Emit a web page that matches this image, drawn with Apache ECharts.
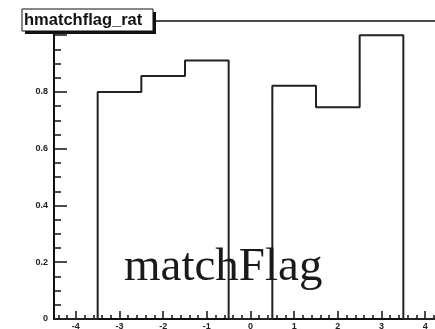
<!DOCTYPE html>
<html>
<head>
<meta charset="utf-8">
<script src="https://cdn.jsdelivr.net/npm/echarts@6/dist/echarts.min.js"></script>
<style>
html,body{margin:0;padding:0;background:#fff;}
#c{width:435px;height:329px;}
</style>
</head>
<body>
<div id="c"></div>
<script>
// Histogram "hmatchflag_rat": bin centers and bin contents
const binCenters = [-4, -3, -2, -1, 0, 1, 2, 3, 4];
const ratio = [0, 0.80, 0.856, 0.911, 0, 0.822, 0.746, 1.0, 0];
const histTitle = 'hmatchflag_rat';
const overlayText = 'matchFlag';

const halfW = 0.5;
const stepData = binCenters.map((c, i) => [c - halfW, ratio[i]]);
stepData.push([binCenters[binCenters.length - 1] + halfW, ratio[ratio.length - 1]]);

const chart = echarts.init(document.getElementById('c'), null, {renderer: 'canvas'});
const lblFont = {fontFamily: 'Liberation Sans, Arial, sans-serif', fontSize: 9, fontWeight: 'bold', color: '#222'};
chart.setOption({
  animation: false,
  backgroundColor: '#fff',
  grid: {left: 54, top: 21, right: -12, bottom: 10, outerBoundsMode: 'none', containLabel: false,
    show: true, borderColor: '#111', borderWidth: 1.5, backgroundColor: 'transparent'},
  xAxis: {
    type: 'value', min: -4.5, max: 4.5, splitNumber: 9,
    axisLine: {show: true, onZero: false, lineStyle: {color: '#111', width: 2}},
    axisTick: {show: true, inside: true, length: 8, lineStyle: {color: '#111', width: 1.5}},
    minorTick: {show: true, splitNumber: 5, length: 4, lineStyle: {color: '#111', width: 1.5}},
    splitLine: {show: false},
    axisLabel: Object.assign({margin: 3, showMinLabel: true, showMaxLabel: true,
      formatter: v => (Math.abs(v - Math.round(v)) < 1e-9 ? String(Math.round(v)) : '')}, lblFont)
  },
  yAxis: {
    type: 'value', min: 0, max: 1.05, interval: 0.2,
    axisLine: {show: true, onZero: false, lineStyle: {color: '#111', width: 2}},
    axisTick: {show: true, inside: true, length: 13, lineStyle: {color: '#111', width: 1.5}},
    minorTick: {show: true, splitNumber: 4, length: 7, lineStyle: {color: '#111', width: 1.5}},
    splitLine: {show: false},
    axisLabel: Object.assign({margin: 6, formatter: v => (v > 0.95 ? '' : String(Math.round(v * 10) / 10))}, lblFont)
  },
  series: [{
    type: 'line', step: 'end', data: stepData, symbol: 'none', clip: false,
    lineStyle: {color: '#222', width: 2}
  }],
  graphic: [
    {type: 'rect', shape: {x: 25, y: 12, width: 131, height: 22}, style: {fill: '#111'}, z: 100},
    {type: 'rect', shape: {x: 22, y: 9, width: 131, height: 22}, style: {fill: '#fff', stroke: '#111', lineWidth: 1}, z: 101},
    {type: 'text', x: 24, y: 20, z: 102, style: {text: histTitle, fill: '#111', font: 'bold 16.5px "Liberation Sans", Arial, sans-serif', verticalAlign: 'middle', align: 'left'}},
    {type: 'text', x: 124, y: 244, z: 102, style: {text: overlayText, fill: '#1a1a1a', font: '47px "Liberation Serif", "Times New Roman", serif', verticalAlign: 'top', align: 'left'}}
  ]
});
</script>
</body>
</html>
